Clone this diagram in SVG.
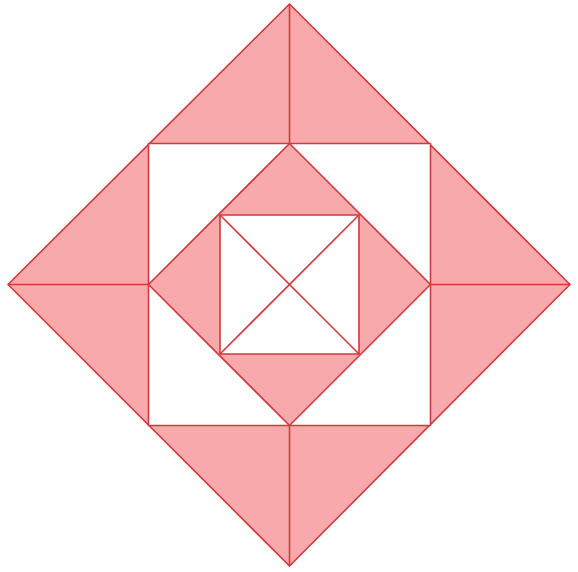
<svg xmlns="http://www.w3.org/2000/svg" width="578" height="572" viewBox="0 0 578 572">
<style>
.s{stroke:#d2393c;stroke-width:1.6;stroke-linejoin:round;fill:none}
.p{fill:#f7a9ab}
.w{fill:#ffffff}
</style>
<rect width="578" height="572" fill="#ffffff"/>
<g id="outer-diamond">
<polygon class="p s" points="289.5,4 570,284.5 289.5,566 8,284.5"/>
</g>
<g id="square">
<rect class="w s" x="148.5" y="143.5" width="282" height="282"/>
</g>
<g id="inner-diamond">
<polygon class="p s" points="289.5,143.5 430.5,284.5 289.5,425.5 148.5,284.5"/>
</g>
<g id="inner-square">
<rect class="w s" x="220" y="215" width="139" height="139"/>
</g>
<g id="connectors">
<line class="s" x1="289.5" y1="4" x2="289.5" y2="143.5"/>
<line class="s" x1="289.5" y1="425.5" x2="289.5" y2="566"/>
<line class="s" x1="8" y1="284.5" x2="148.5" y2="284.5"/>
<line class="s" x1="430.5" y1="284.5" x2="570" y2="284.5"/>
<line class="s" x1="220" y1="215" x2="359" y2="354"/>
<line class="s" x1="359" y1="215" x2="220" y2="354"/>
</g>
</svg>
